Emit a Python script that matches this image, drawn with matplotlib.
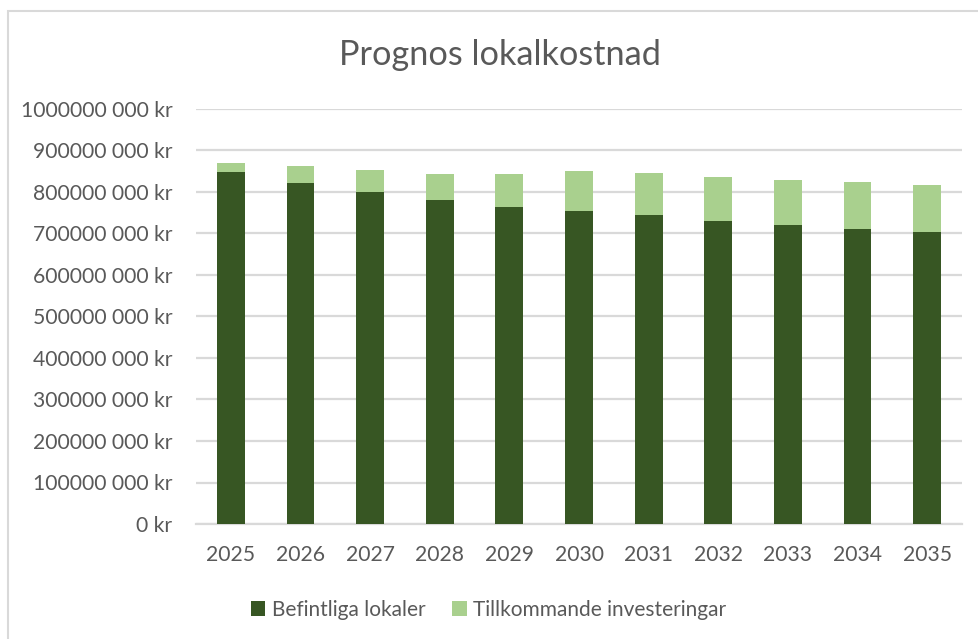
import matplotlib
matplotlib.use("Agg")
import matplotlib.pyplot as plt
from matplotlib.ticker import FuncFormatter, MultipleLocator
from matplotlib.patches import Rectangle

plt.rcParams['font.family'] = ['Lato', 'DejaVu Sans']

years = ["2025", "2026", "2027", "2028", "2029", "2030", "2031", "2032", "2033", "2034", "2035"]
befintliga = [848e6, 822e6, 800e6, 781e6, 764e6, 754e6, 745e6, 730e6, 720e6, 711e6, 704e6]
totals = [870e6, 863e6, 853e6, 843e6, 843e6, 851e6, 846e6, 836e6, 829e6, 824e6, 817e6]
tillkommande = [t - b for t, b in zip(totals, befintliga)]
series_names = ["Befintliga lokaler", "Tillkommande investeringar"]
title = "Prognos lokalkostnad"

dark = "#375623"
light = "#A9D08E"
text_col = "#595959"

fig = plt.figure(figsize=(9.79, 6.39), dpi=100)
ax = fig.add_axes([196/979, 1-524/639, (962-196)/979, (524-109)/639])

x = range(len(years))
ax.bar(x, befintliga, width=0.4, color=dark, label=series_names[0], zorder=3)
ax.bar(x, tillkommande, width=0.4, bottom=befintliga, color=light, label=series_names[1], zorder=3)

ax.set_xlim(-0.5, len(years) - 0.5)
ax.set_ylim(0, 1e9)
ax.yaxis.set_major_locator(MultipleLocator(1e8))

def fmt(v, pos):
    v = int(round(v))
    if v == 0:
        return "0 kr"
    return f"{v // 1000} {v % 1000:03d} kr"

ax.yaxis.set_major_formatter(FuncFormatter(fmt))
ax.set_xticks(list(x))
ax.set_xticklabels(years)

ax.grid(axis='y', color="#D9D9D9", linewidth=1.6, zorder=0)
for s in ["top", "right", "left"]:
    ax.spines[s].set_visible(False)
ax.spines["bottom"].set_color("#D9D9D9")
ax.spines["bottom"].set_linewidth(1.6)
ax.tick_params(axis='both', length=0, labelsize=15.2, colors=text_col)
ax.tick_params(axis='y', pad=17)
ax.tick_params(axis='x', pad=15)

fig.text(0.511, 1-55/639, title, ha='center', va='center', fontsize=24.7, color=text_col)

leg = fig.legend(loc='center', bbox_to_anchor=(0.499, 1-610/639), ncol=2, frameon=False,
                 fontsize=15, labelcolor=text_col, handlelength=0.7, handleheight=0.7,
                 handletextpad=0.3, columnspacing=1.3)

fig.patches.append(Rectangle((8/979, -0.1), 1.2, (639-11)/639 + 0.1, transform=fig.transFigure,
                             fill=False, edgecolor="#D9D9D9", linewidth=1.5))

fig.savefig("out.png", dpi=100)
